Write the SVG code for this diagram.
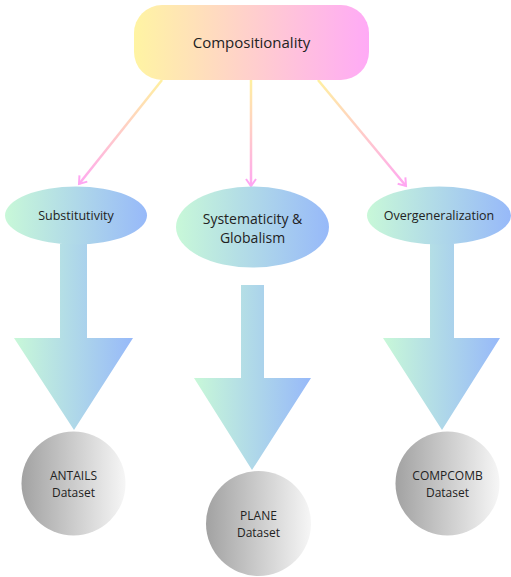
<svg xmlns="http://www.w3.org/2000/svg" width="511" height="577" viewBox="0 0 511 577">
<defs>
<linearGradient id="gTop" x1="0" y1="0" x2="1" y2="0"><stop offset="0" stop-color="#fff4a3"/><stop offset="1" stop-color="#ffaaf6"/></linearGradient>
<linearGradient id="gBlue" x1="0" y1="0" x2="1" y2="0"><stop offset="0" stop-color="#c8f8d8"/><stop offset="1" stop-color="#97b9f9"/></linearGradient>
<linearGradient id="gGray" x1="0" y1="0" x2="1" y2="0"><stop offset="0" stop-color="#a2a2a2"/><stop offset="1" stop-color="#f6f6f6"/></linearGradient>
<linearGradient id="gLine" gradientUnits="userSpaceOnUse" x1="0" y1="80" x2="0" y2="188"><stop offset="0" stop-color="#fff0a0"/><stop offset="1" stop-color="#ffa6f2"/></linearGradient>
<marker id="arr" markerWidth="12" markerHeight="12" refX="9" refY="6" orient="auto" markerUnits="userSpaceOnUse"><path d="M2,1 L9,6 L2,11" fill="none" stroke="#ffa6f2" stroke-width="2"/></marker>
</defs>
<style>
text{font-family:"Open Sans","Noto Sans","Liberation Sans",sans-serif;fill:#222;text-anchor:middle;}
.conn{stroke:url(#gLine);stroke-width:2.5;fill:none;marker-end:url(#arr);}
.blk{fill:url(#gBlue);}
.ds{fill:url(#gGray);}
</style>
<g id="connectors">
<path class="conn" d="M162,80 L79,184"/>
<path class="conn" d="M251.01,80 L251,186"/>
<path class="conn" d="M318,80 L406,186"/>
<polygon class="blk" points="60,244 87,244 87,338 133,338 74,430 14,338 60,338"/>
<polygon class="blk" points="241,285 264,285 264,378 311,378 252,470 194,378 241,378"/>
<polygon class="blk" points="430,244 454,244 454,338 500,338 442,430 383,338 430,338"/>
</g>
<g id="compositionality">
<rect x="134" y="5" width="235" height="75" rx="28" fill="url(#gTop)"/>
<text x="251.5" y="48" font-size="15">Compositionality</text>
</g>
<g id="substitutivity">
<ellipse cx="76" cy="215.5" rx="71" ry="29" fill="url(#gBlue)"/>
<text x="76" y="220" font-size="12.5">Substitutivity</text>
</g>
<g id="systematicity">
<ellipse cx="252.5" cy="227" rx="76.5" ry="40.5" fill="url(#gBlue)"/>
<text x="252.5" y="224" font-size="14">Systematicity &amp;</text>
<text x="252.5" y="243" font-size="14">Globalism</text>
</g>
<g id="overgeneralization">
<ellipse cx="439" cy="215.5" rx="72" ry="29" fill="url(#gBlue)"/>
<text x="439" y="220" font-size="12.5">Overgeneralization</text>
</g>
<g id="antails">
<circle cx="73.5" cy="483.5" r="52" class="ds"/>
<text x="73.5" y="480" font-size="12">ANTAILS</text>
<text x="73.5" y="497" font-size="12">Dataset</text>
</g>
<g id="plane">
<circle cx="258.5" cy="523.5" r="52.5" class="ds"/>
<text x="258.5" y="520" font-size="12">PLANE</text>
<text x="258.5" y="537" font-size="12">Dataset</text>
</g>
<g id="compcomb">
<circle cx="447.5" cy="483.5" r="52" class="ds"/>
<text x="447.5" y="480" font-size="12">COMPCOMB</text>
<text x="447.5" y="497" font-size="12">Dataset</text>
</g>
</svg>
